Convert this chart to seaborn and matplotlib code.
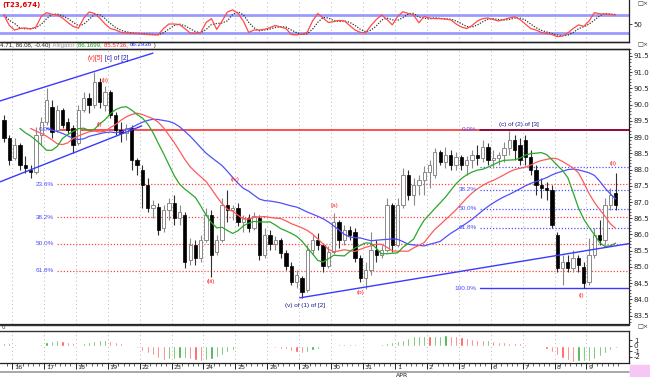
import numpy as np
import pandas as pd
import matplotlib
matplotlib.use("Agg")
import matplotlib.pyplot as plt
from matplotlib.lines import Line2D
from matplotlib.patches import Rectangle
import seaborn as sns

# ---------------- data (4-hour bars) ----------------
opens = [89.52, 88.97, 88.35, 88.75, 88.14, 87.98, 87.92, 89.06, 89.46, 89.92,
         89.22, 89.83, 89.46, 89.28, 88.82, 89.83, 90.20, 89.98, 90.69, 89.98,
         90.38, 89.68, 89.22, 89.12, 89.28, 88.29, 87.98, 87.52, 86.82, 86.85,
         86.20, 86.75, 86.97, 86.51, 86.60, 85.22, 85.68, 85.28, 85.83, 86.60,
         85.46, 85.83, 86.91, 86.75, 86.82, 86.38, 86.51, 86.20, 86.51, 85.37,
         85.98, 85.71, 85.83, 85.43, 85.03, 84.54, 84.66, 84.29, 85.52, 85.83,
         85.68, 85.03, 85.46, 86.38, 85.83, 86.14, 86.08, 85.28, 84.66, 84.91,
         85.52, 85.37, 85.52, 86.91, 85.68, 86.91, 87.83, 87.22, 87.52, 87.68,
         87.92, 87.83, 88.54, 88.23, 88.45, 88.14, 88.38, 88.14, 88.29, 88.45,
         88.35, 88.69, 88.29, 88.35, 88.45, 88.66, 88.91, 88.75, 88.91, 88.38,
         87.98, 87.52, 87.43, 87.37, 85.98, 84.97, 85.15, 84.97, 85.28, 85.00,
         84.54, 85.37, 85.98, 85.83, 86.91, 87.28]
highs = [89.68, 89.06, 88.97, 88.82, 88.42, 88.14, 89.31, 89.62, 90.51, 90.14,
         89.98, 89.89, 89.58, 89.37, 89.98, 90.38, 90.35, 91.00, 90.82, 90.57,
         90.45, 89.77, 89.46, 89.40, 89.37, 88.35, 88.14, 87.74, 87.06, 86.97,
         86.91, 87.12, 87.22, 86.91, 86.69, 85.89, 85.83, 85.98, 86.82, 86.75,
         85.98, 87.12, 87.37, 86.91, 86.97, 86.60, 86.63, 86.69, 86.60, 86.20,
         86.14, 85.95, 85.89, 85.52, 85.15, 84.91, 84.72, 85.68, 85.98, 86.05,
         85.74, 85.65, 86.66, 86.45, 86.29, 86.26, 86.20, 85.37, 85.15, 86.08,
         85.83, 85.68, 87.12, 86.97, 87.12, 88.05, 87.98, 87.74, 87.83, 88.11,
         88.29, 88.66, 88.60, 88.69, 88.60, 88.54, 88.45, 88.42, 88.60, 88.75,
         88.91, 88.82, 88.60, 88.54, 88.85, 89.18, 89.06, 88.97, 89.06, 88.60,
         88.14, 87.74, 87.62, 87.52, 86.08, 85.37, 85.37, 85.52, 85.37, 85.15,
         85.89, 86.20, 86.45, 87.12, 87.43, 87.89]
lows = [88.85, 88.14, 88.29, 87.98, 87.89, 87.74, 87.86, 88.75, 89.37, 88.97,
        89.15, 89.28, 89.09, 88.51, 88.75, 89.77, 89.74, 89.89, 89.89, 89.80,
        89.58, 89.06, 88.85, 88.91, 87.98, 87.83, 86.82, 86.69, 86.51, 85.98,
        86.08, 86.45, 86.29, 86.29, 84.97, 85.06, 85.06, 85.15, 85.77, 84.69,
        85.37, 85.77, 86.38, 86.45, 86.26, 86.08, 86.08, 86.14, 85.22, 85.28,
        85.52, 85.52, 85.28, 84.91, 84.45, 84.35, 84.05, 84.23, 85.37, 85.52,
        84.85, 84.97, 85.40, 85.58, 85.68, 85.83, 85.15, 84.54, 84.32, 84.75,
        85.15, 85.28, 85.46, 85.46, 85.62, 86.82, 87.06, 86.91, 87.22, 87.22,
        87.43, 87.74, 88.14, 88.05, 87.98, 87.98, 87.98, 87.83, 88.05, 88.14,
        88.23, 88.14, 88.05, 88.14, 88.23, 88.45, 88.29, 88.14, 88.14, 87.83,
        87.22, 87.12, 87.06, 86.20, 84.85, 84.45, 84.85, 84.85, 84.85, 84.35,
        84.45, 85.28, 85.68, 85.68, 86.75, 86.75]
closes = [88.97, 88.29, 88.75, 88.14, 88.05, 87.92, 89.06, 89.46, 90.14, 89.15,
          89.83, 89.37, 89.22, 88.75, 89.83, 90.20, 89.98, 90.69, 90.08, 90.38,
          89.68, 89.22, 89.12, 89.28, 88.29, 88.14, 87.52, 86.82, 86.91, 86.14,
          86.75, 86.97, 86.51, 86.69, 85.15, 85.68, 85.28, 85.83, 86.60, 85.37,
          85.83, 86.91, 86.75, 86.82, 86.38, 86.51, 86.20, 86.57, 85.37, 85.98,
          85.71, 85.83, 85.43, 85.03, 84.54, 84.75, 84.23, 85.52, 85.83, 85.68,
          85.03, 85.46, 86.38, 85.83, 86.14, 85.98, 85.28, 84.66, 84.91, 85.52,
          85.37, 85.52, 86.91, 85.68, 86.91, 87.83, 87.22, 87.52, 87.68, 87.92,
          88.14, 88.54, 88.23, 88.45, 88.14, 88.38, 88.14, 88.29, 88.45, 88.35,
          88.69, 88.29, 88.35, 88.45, 88.66, 88.91, 88.60, 88.29, 88.38, 87.98,
          87.52, 87.43, 87.37, 86.29, 84.97, 85.15, 84.97, 85.28, 85.06, 84.51,
          85.37, 85.98, 85.83, 86.91, 87.22, 86.91]

stoch_k = [80, 45, 30, 35, 37, 33, 40, 75, 88, 82,
           80, 70, 55, 42, 36, 70, 90, 85, 70, 50,
           35, 30, 22, 20, 19, 18, 17, 15, 14, 14,
           35, 50, 50, 48, 35, 20, 19, 22, 55, 68,
           32, 60, 90, 97, 85, 60, 22, 30, 30, 32,
           38, 45, 40, 35, 15, 14, 16, 22, 60, 85,
           70, 55, 58, 62, 60, 45, 30, 22, 21, 45,
           65, 80, 65, 47, 75, 91, 85, 80, 54, 75,
           70, 68, 68, 66, 64, 50, 40, 35, 45, 60,
           68, 70, 65, 60, 65, 70, 74, 65, 50, 35,
           30, 22, 18, 15, 8, 10, 20, 35, 47, 42,
           60, 88, 84, 83, 82, 80]

macd_hist = [0.45, 0.45, 0.3, 0.1, 0.1, 0.1, 0.1, 0.35, 0.6, 0.9,
             1.1, 0.9, 0.7, 0.5, 0.2, 0.4, 0.6, 0.9, 1.05, 1.1,
             0.9, 0.7, 0.4, 0.2, -0.1, -0.35, -0.9, -1.3, -1.7, -2.2,
             -2.5, -2.4, -2.3, -2.2, -2.15, -2.4, -2.6, -2.7, -2.6, -2.3,
             -2.0, -1.6, -1.2, -0.8, -0.3, -0.1, -0.05, 0.05, 0.05, 0.0,
             -0.2, -0.35, -0.5, -0.6, -0.9, -1.2, -1.3, -1.1, -0.8, -0.5,
             -0.3, -0.25, 0.15, 0.25, 0.3, 0.3, 0.35, -0.15, -0.3, -0.2,
             0.15, 0.3, 0.5, 0.7, 0.9, 1.1, 1.3, 1.7, 1.8, 1.8,
             1.75, 1.75, 1.8, 1.85, 1.8, 1.75, 1.6, 1.4, 1.2, 1.0,
             0.95, 0.95, 0.85, 0.7, 0.6, 0.5, 0.45, 0.4, 0.3, 0.2,
             -0.1, -0.3, -0.6, -1.1, -1.7, -2.2, -2.6, -2.85, -2.8, -2.7,
             -2.7, -2.3, -1.8, -1.3, -0.8, -0.4]

day_labels = ["16", "17", "18", "19", "22", "23", "24", "25", "26", "29",
              "30", "31", "1", "2", "5", "6", "7", "8", "9"]
month_label = "APR"

fib1_pct = ["0.0%", "23.6%", "38.2%", "50.0%", "61.8%"]
fib1_lvl = [89.22, 87.55, 86.53, 85.71, 84.88]
fib2_pct = ["0.0%", "", "38.2%", "50.0%", "61.8%", "100.0%"]
fib2_lvl = [89.22, 88.07, 87.37, 86.79, 86.21, 84.35]

# trend lines: (bar index, price)
upper_channel = ([-0.75, 28.0], [90.11, 91.58])
lower_channel = ([-0.75, 25.9], [87.62, 89.34])
support_line = ([55.6, 117.5], [84.05, 85.72])

wave_labels = [  # text, bar index, price, colour
    ("(ii)", 19.0, 90.75, "red"), ("(i)", 18.0, 89.37, "red"),
    ("(iv)", 43.4, 87.68, "red"), ("(iii)", 38.9, 84.54, "red"),
    ("(a)", 62.2, 86.88, "red"), ("(b)", 67.1, 84.20, "red"),
    ("(v) of (1) of [2]", 56.6, 83.83, "navy"),
    ("(c) of (2) of [3]", 96.8, 89.37, "navy"),
    ("(ii)", 114.5, 88.20, "red"), ("(i)", 108.5, 84.11, "red"),
]

header_parts = [("4.71, 86.08, -0.40)", "#222222"), (" Alligator (", "#999999"),
                ("86.1699, ", "#1a9a1a"), ("85.5736, ", "#ff2020"),
                ("86.2936", "#2020ff"), (" )", "#222222")]

# ---------------- figure ----------------
sns.set_style("white")
plt.rcParams["font.family"] = ["DejaVu Sans"]
NARROW = ["Liberation Sans Narrow", "Liberation Sans", "DejaVu Sans"]
W, H = 650, 377
fig = plt.figure(figsize=(6.5, 3.77), dpi=100)


def ax_at(top_px, bot_px, right_px=629):
    return fig.add_axes([0, 1 - bot_px / H, right_px / W, (bot_px - top_px) / H])


ax_s = ax_at(0, 41.5)
ax_m = ax_at(49, 324)
ax_h = ax_at(331, 362.5)

n = len(closes)
idx = np.arange(n)
xlim = (-0.75, 117.5)
day_pos = [1.5 + 6 * k for k in range(len(day_labels))]

for ax in (ax_s, ax_m, ax_h):
    ax.set_xlim(*xlim)
    ax.set_facecolor("white")
    for x in day_pos:
        ax.axvline(x, color="#b5b5b5", lw=0.7, ls=(0, (1, 3)), zorder=0)
    ax.yaxis.tick_right()
    ax.tick_params(axis="y", which="both", direction="out", length=2, width=0.6,
                   labelsize=5, pad=1.5, colors="#222222")
    ax.tick_params(axis="x", which="both", bottom=False, labelbottom=False)
    ax.spines["left"].set_visible(False)
    for s in ("right", "top", "bottom"):
        ax.spines[s].set_color("#222222")
        ax.spines[s].set_linewidth(0.9)

# ---------- stochastic ----------
df_s = pd.DataFrame({"bar": idx, "k": stoch_k})
df_s["d"] = df_s["k"].rolling(3, min_periods=1).mean()
ax_s.set_ylim(-8.3, 130)
ax_s.axhline(80, color="#9a9aff", lw=2.0, zorder=1)
ax_s.axhline(20, color="#9a9aff", lw=2.0, zorder=1)
sns.lineplot(data=df_s, x="bar", y="d", ax=ax_s, color="#333333", lw=0.9,
             linestyle=(0, (1, 1.2)), zorder=3)
sns.lineplot(data=df_s, x="bar", y="k", ax=ax_s, color="#ff4a4a", lw=0.9, zorder=4)
ax_s.set_yticks([50])
ax_s.set_yticklabels(["50"])
ax_s.set_xlabel("")
ax_s.set_ylabel("")
ax_s.spines["top"].set_visible(False)
fig.text(2 / W, 1 - 5 / H, "(T23,674)", color="#dd0000", fontsize=5,
         fontweight="bold", va="center", ha="left")

# ---------- main price ----------
ax_m.set_ylim(83.246, 91.708)
ax_m.set_yticks(np.arange(83.5, 91.51, 0.5))
ax_m.set_yticks(np.arange(83.3, 91.71, 0.1), minor=True)
ax_m.yaxis.set_major_formatter(matplotlib.ticker.FormatStrFormatter("%.1f"))
ax_m.tick_params(axis="y", which="minor", length=1.2, width=0.5)

o = np.array(opens); c = np.array(closes); hi = np.array(highs); lo = np.array(lows)
up = c >= o
ax_m.vlines(idx, lo, hi, colors=np.where(up, "#8a8a8a", "#303030"), lw=0.8, zorder=3)
body_b = np.minimum(o, c)
body_h = np.maximum(np.abs(c - o), 0.03)
ax_m.bar(idx[up], body_h[up], bottom=body_b[up], width=0.62, color="white",
         edgecolor="#8a8a8a", linewidth=0.7, zorder=4)
ax_m.bar(idx[~up], body_h[~up], bottom=body_b[~up], width=0.62, color="black",
         edgecolor="black", linewidth=0.5, zorder=4)

# Alligator (smoothed moving averages of median price, shifted forward)
median = pd.Series((hi + lo) / 2)
ally = pd.DataFrame({"bar": idx})
ally["jaw"] = median.ewm(alpha=1 / 13, adjust=False).mean().shift(8)
ally["teeth"] = median.ewm(alpha=1 / 8, adjust=False).mean().shift(5)
ally["lips"] = median.ewm(alpha=1 / 5, adjust=False).mean().shift(3)
sns.lineplot(data=ally, x="bar", y="jaw", ax=ax_m, color="#4f4fff", lw=0.9, zorder=5)
sns.lineplot(data=ally, x="bar", y="teeth", ax=ax_m, color="#ff5a5a", lw=0.9, zorder=5)
sns.lineplot(data=ally, x="bar", y="lips", ax=ax_m, color="#2aa82a", lw=0.9, zorder=5)
ax_m.set_xlabel("")
ax_m.set_ylabel("")

# Fibonacci levels
fib1_start, fib2_start = 10.0, 89.5
for i, lvl in enumerate(fib1_lvl):
    if i == 0:
        ax_m.plot([fib1_start, xlim[1]], [lvl, lvl], color="#ff2020", lw=1.1, zorder=2)
    else:
        ax_m.plot([fib1_start, xlim[1]], [lvl, lvl], color="#ff4040", lw=0.9,
                  ls=(0, (1, 1.5)), zorder=2)
    ax_m.text(9.4, lvl, fib1_pct[i], color="#4a4aff", fontsize=4.6, family=NARROW,
              ha="right", va="center", zorder=6)
for i, lvl in enumerate(fib2_lvl):
    if i == 0:
        ax_m.plot([fib2_start, xlim[1]], [lvl, lvl], color="#800030", lw=1.2, zorder=2)
    elif i == len(fib2_lvl) - 1:
        ax_m.plot([fib2_start, xlim[1]], [lvl, lvl], color="#3a3aff", lw=1.0, zorder=2)
    else:
        ax_m.plot([fib2_start, xlim[1]], [lvl, lvl], color="#5050ff", lw=0.9,
                  ls=(0, (1, 1.5)), zorder=2)
    if fib2_pct[i]:
        ax_m.text(88.9, lvl, fib2_pct[i], color="#4a4aff", fontsize=4.6, family=NARROW,
                  ha="right", va="center", zorder=6)

for xs, ys in (upper_channel, lower_channel, support_line):
    ax_m.plot(xs, ys, color="#3a3aff", lw=1.0, zorder=6)

for txt, bx, py, col in wave_labels:
    ax_m.text(bx, py, txt, color=("#ff2020" if col == "red" else "#1a1a90"),
              fontsize=4.6, family=NARROW, ha="center", va="center", zorder=7)

t1 = ax_m.text(15.8, 91.43, "(v)[5]", color="#ff2020", fontsize=4.8, family=NARROW,
               ha="left", va="center", zorder=7)
ax_m.annotate(" [c] of [2]", xy=(1, 0.5), xycoords=t1, color="#2020b0",
              fontsize=4.8, family=NARROW, ha="left", va="center", zorder=7)

# header line of price panel
prev = None
for txt, col in header_parts:
    if prev is None:
        prev = fig.text(0.5 / W, 1 - 45 / H, txt, fontsize=4.4, family=NARROW,
                        color=col, va="center", ha="left")
    else:
        prev = ax_m.annotate(txt, xy=(1, 0.5), xycoords=prev, fontsize=4.4,
                             family=NARROW, color=col, ha="left", va="center",
                             annotation_clip=False)

# ---------- MACD histogram ----------
df_h = pd.DataFrame({"bar": idx, "v": macd_hist})
rising = df_h["v"].diff().fillna(0) >= 0
ax_h.bar(df_h["bar"][rising], df_h["v"][rising], width=0.4, color="#34ae34", zorder=3)
ax_h.bar(df_h["bar"][~rising], df_h["v"][~rising], width=0.4, color="#ff5050", zorder=3)
ax_h.set_ylim(-3.0, 2.625)
ax_h.set_yticks([1, 0, -1, -2])
ax_h.set_yticklabels(["1", "0", "-1", "-2"])
ax_h.tick_params(axis="x", which="both", bottom=True, direction="out",
                 colors="#222222")
ax_h.set_xticks(day_pos)
ax_h.set_xticks(idx + 0.5, minor=True)
ax_h.tick_params(axis="x", which="major", length=4, width=0.7)
ax_h.tick_params(axis="x", which="minor", length=2, width=0.5)
for x, lab in zip(day_pos, day_labels):
    ax_h.text(x + 0.35, -0.15, lab, transform=ax_h.get_xaxis_transform(),
              fontsize=4.6, ha="left", va="center", color="#222222")
ax_h.text(day_pos[day_labels.index("1")] + 0.1, -0.4, month_label,
          transform=ax_h.get_xaxis_transform(), fontsize=4.4, ha="left",
          va="center", color="#222222")

# separators / decorations
for ypx, col, lw in ((41.5, "#222222", 1.0), (49, "#222222", 1.0),
                     (325, "#333333", 1.0), (330.5, "#333333", 0.8),
                     (371.5, "#9a9a9a", 1.2)):
    fig.add_artist(Line2D([0, 629 / W], [1 - ypx / H, 1 - ypx / H], color=col, lw=lw))
fig.add_artist(Rectangle((630 / W, 0), 20 / W, 12 / H, color="#f6c6f6",
                         transform=fig.transFigure))
for ypx in (4, 45, 327):
    fig.text(643 / W, 1 - ypx / H, "□×", fontsize=4.5, ha="center", va="center",
             color="#333333")
fig.text(2 / W, 1 - 327.5 / H, "0", fontsize=4, ha="left", va="center", color="#333333")

fig.savefig("out.png", dpi=100)
